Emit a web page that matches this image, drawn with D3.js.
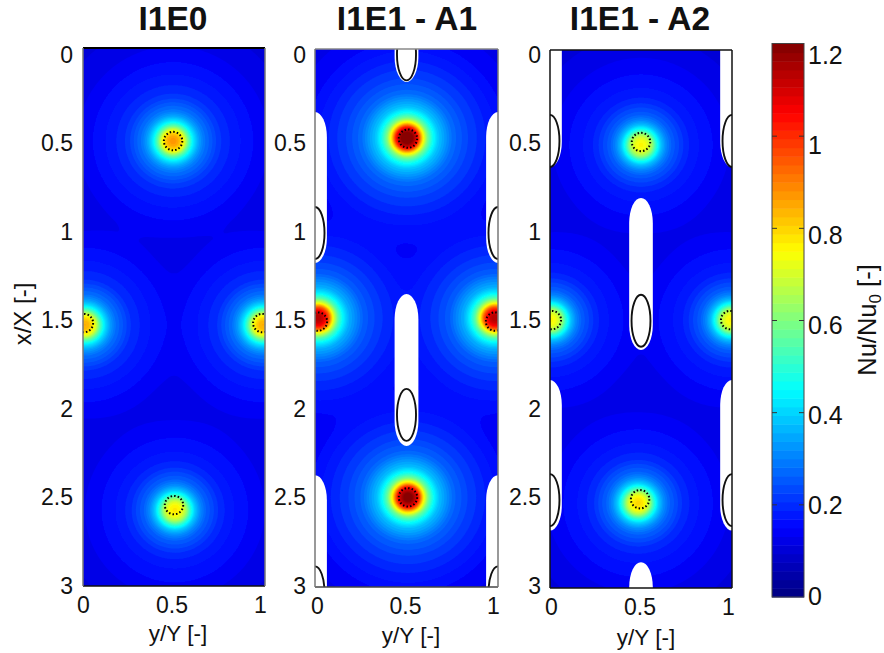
<!DOCTYPE html>
<html><head><meta charset="utf-8">
<script src="https://cdnjs.cloudflare.com/ajax/libs/d3/7.8.5/d3.min.js"></script>
<style>html,body{margin:0;padding:0;background:#fff}svg{display:block}text{font-family:"Liberation Sans",Arial,sans-serif;fill:#111}</style>
</head><body><div id="chart"></div>
<script>
// ---- data (all in chart units) ----
const titles = ["I1E0", "I1E1 - A1", "I1E1 - A2"];
const yTicks = [0, 0.5, 1, 1.5, 2, 2.5, 3];
const xTicks = [0, 0.5, 1];
const barTicks = [0, 0.2, 0.4, 0.6, 0.8, 1, 1.2];
const baseNu = 0.08;
// radial decay of a jet's peak: distance in y/Y, fraction of the peak
const profileR = [0, 0.025, 0.045, 0.062, 0.082, 0.11, 0.14, 0.17, 0.25, 0.33, 0.44, 0.55, 0.7, 0.9, 1.2];
const profileF = [1, 0.97, 0.90, 0.80, 0.62, 0.44, 0.33, 0.26, 0.165, 0.125, 0.088, 0.058, 0.035, 0.015, 0];
// [y/Y, x/X, peak Nu/Nu0]
const jetsA = [[0.495, 0.519, 0.88], [0.01, 1.545, 0.85], [0.99, 1.545, 0.85], [0.505, 2.577, 0.78]];
const jetsB = [[0.503, 0.496, 1.25], [0.016, 1.50, 1.15], [0.984, 1.50, 1.15], [0.508, 2.50, 1.22], [0.5, 0.2, 0.12]];
const jetsC = [[0.50, 0.53, 0.76], [0.005, 1.506, 0.76], [0.995, 1.506, 0.76], [0.484, 2.527, 0.80]];
// dotted rings: [y/Y, x/X]
const ringsA = [[0.495, 0.519], [0.005, 1.534], [0.985, 1.534], [0.5, 2.549]];
const ringsB = [[0.508, 0.50], [0.016, 1.52], [0.984, 1.52], [0.508, 2.50]];
const ringsC = [[0.50, 0.513], [0.01, 1.506], [0.99, 1.506], [0.495, 2.505]];
// blank zones: [y/Y centre, x/X start, x/X end]
const holesA = [];
const holesB = [[0.5, -0.5, 0.184], [0.5, 1.366, 2.214], [0, 0.351, 1.193], [1, 0.351, 1.193], [0, 2.376, 3.5], [1, 2.376, 3.5]];
const holesC = [[0, -0.5, 0.653], [1, -0.5, 0.653], [0.5, 0.825, 1.673], [0, 1.84, 2.68], [1, 1.84, 2.68], [0.5, 2.856, 3.5]];
// ellipses: [y/Y, x/X]
const ovalsA = [];
const ovalsB = [[0.5, 0.03], [0.5, 2.04], [0, 1.026], [1, 1.026], [0, 3.03], [1, 3.03]];
const ovalsC = [[0, 0.507], [1, 0.507], [0.5, 1.51], [0, 2.51], [1, 2.51]];

// ---- layout ----
const W = 884, H = 653;
const panels = [
  {title: titles[0], jets: jetsA, rings: ringsA, holes: holesA, ovals: ovalsA, x: [83, 265], y: [48, 586],
   xt: [83, 260], tx: 173, lx: 178, ly: 633, xty: 605, axisX: 73, frame: {t: ["#000", 2], b: ["#111", 1.5], l: ["#777", 1.5], r: ["#777", 1.5]}},
  {title: titles[1], jets: jetsB, rings: ringsB, holes: holesB, ovals: ovalsB, x: [315, 498], y: [49, 587],
   xt: [317, 493], tx: 407, lx: 411, ly: 635, xty: 606, axisX: 306, frame: {t: ["#888", 1.5], b: ["#444", 1.5], l: ["#777", 1.5], r: ["#777", 1.5]}},
  {title: titles[2], jets: jetsC, rings: ringsC, holes: holesC, ovals: ovalsC, x: [550, 732], y: [50, 588],
   xt: [551, 728], tx: 640, lx: 646, ly: 637, xty: 607, axisX: 541, frame: {t: ["#111", 1.5], b: ["#111", 1.5], l: ["#111", 1.5], r: ["#111", 1.5]}}
];
const svg = d3.select("#chart").append("svg").attr("width", W).attr("height", H);
const defs = svg.append("defs");
defs.append("filter").attr("id", "soft").attr("x", "-5%").attr("y", "-5%").attr("width", "110%").attr("height", "110%")
  .append("feGaussianBlur").attr("stdDeviation", 0.6);

// jet colormap, 64 levels over 0..1.2
const LEVELS = 64, VMAX = 1.2;
const jetRamp = d3.scaleLinear().domain([0, 0.125, 0.375, 0.625, 0.875, 1])
  .range(["#000080", "#0000ff", "#00ffff", "#ffff00", "#ff0000", "#800000"]).interpolate(d3.interpolateRgb);
const levelColor = i => jetRamp((i + 0.5) / LEVELS);
const profile = d3.scaleLinear().domain(profileR).range(profileF).clamp(true);

const nx = 110, ny = 324;
panels.forEach((p, pi) => {
  const sx = d3.scaleLinear().domain([0, 1]).range(p.x);
  const sy = d3.scaleLinear().domain([0, 3]).range(p.y);
  const gx = d3.scaleLinear().domain([0, nx]).range(p.x);
  const gy = d3.scaleLinear().domain([0, ny]).range(p.y);
  const rx = sx(1) - sx(0), ry = (sy(1) - sy(0));
  const field = new Float64Array(nx * ny);
  for (let j = 0; j < ny; j++) for (let i = 0; i < nx; i++) {
    const yy = sx.invert(gx(i + 0.5)), xx = sy.invert(gy(j + 0.5));
    // strongest jet dominates, so the halos stay round and meet in cusps
    let s = 0;
    p.jets.forEach(([a, b, pk]) => {
      const d = Math.hypot(yy - a, xx - b);
      s += Math.pow((pk - baseNu) * profile(d), 4);
    });
    field[i + j * nx] = baseNu + Math.pow(s, 0.25);
  }
  const clipId = "clip" + pi;
  defs.append("clipPath").attr("id", clipId).append("rect")
    .attr("x", p.x[0]).attr("y", p.y[0]).attr("width", p.x[1] - p.x[0]).attr("height", p.y[1] - p.y[0]);
  const g = svg.append("g").attr("clip-path", `url(#${clipId})`);
  const heat = g.append("g").attr("filter", "url(#soft)");
  const thresholds = d3.range(LEVELS).map(i => i * VMAX / LEVELS);
  const contours = d3.contours().size([nx, ny]).thresholds(thresholds)(field);
  const path = d3.geoPath(d3.geoTransform({point(x, y) { this.stream.point(gx(x), gy(y)); }}));
  heat.selectAll("path").data(contours).join("path")
    .attr("d", path).attr("fill", (d, i) => levelColor(i));

  // blank zones with elliptical ends
  const capY = 0.14, halfW = 0.065;
  g.selectAll("path.hole").data(p.holes).join("path").attr("class", "hole").attr("fill", "#fff")
    .attr("d", ([c, a, b]) => {
      const x0 = sx(c - halfW), x1 = sx(c + halfW), yt = sy(a), yb = sy(b);
      const e = halfW * rx, f = capY * ry;
      return `M${x0},${yt + f}A${e},${f} 0 0 1 ${x1},${yt + f}L${x1},${yb - f}A${e},${f} 0 0 1 ${x0},${yb - f}Z`;
    });
  g.selectAll("ellipse").data(p.ovals).join("ellipse")
    .attr("cx", d => sx(d[0])).attr("cy", d => sy(d[1]))
    .attr("rx", 0.052 * rx).attr("ry", 0.145 * ry)
    .attr("fill", "none").attr("stroke", "#111").attr("stroke-width", 1.9);
  g.selectAll("circle").data(p.rings).join("circle")
    .attr("cx", d => sx(d[0])).attr("cy", d => sy(d[1])).attr("r", 9.2)
    .attr("fill", "none").attr("stroke", "#000").attr("stroke-width", 2)
    .attr("stroke-dasharray", "1.5 2.1");

  // frame
  const fr = p.frame;
  [["t", p.x[0], p.y[0], p.x[1], p.y[0]], ["b", p.x[0], p.y[1], p.x[1], p.y[1]],
   ["l", p.x[0], p.y[0], p.x[0], p.y[1]], ["r", p.x[1], p.y[0], p.x[1], p.y[1]]].forEach(([k, a, b, c, d]) => {
    svg.append("line").attr("x1", a).attr("y1", b).attr("x2", c).attr("y2", d)
      .attr("stroke", fr[k][0]).attr("stroke-width", fr[k][1]);
  });

  // tick labels (axes with zero tick length)
  const yLab = d3.scaleLinear().domain([0, 3]).range([54, 585]);
  const ya = svg.append("g").attr("transform", `translate(${p.axisX},0)`)
    .call(d3.axisLeft(yLab).tickValues(yTicks).tickSize(0).tickPadding(0).tickFormat(d3.format("~g")));
  ya.select(".domain").remove();
  ya.selectAll("text").attr("font-size", 23).attr("dy", "0.36em").style("font-family", '"Liberation Sans"').attr("fill", "#111");
  const xLab = d3.scaleLinear().domain([0, 1]).range(p.xt);
  const xa = svg.append("g").attr("transform", `translate(0,${p.xty})`)
    .call(d3.axisBottom(xLab).tickValues(xTicks).tickSize(0).tickPadding(0).tickFormat(d3.format("~g")));
  xa.select(".domain").remove();
  xa.selectAll("text").attr("font-size", 23).attr("y", 0).attr("dy", "0.36em").style("font-family", '"Liberation Sans"').attr("fill", "#111");

  svg.append("text").attr("x", p.tx).attr("y", 30).attr("text-anchor", "middle")
    .attr("font-size", 33.5).attr("font-weight", "bold").text(p.title);
  svg.append("text").attr("x", p.lx).attr("y", p.ly).attr("dy", "0.36em").attr("text-anchor", "middle")
    .attr("font-size", 22.5).text("y/Y [-]");
});

svg.append("text").attr("transform", "translate(22,314) rotate(-90)").attr("dy", "0.36em").attr("text-anchor", "middle")
  .attr("font-size", 24).text("x/X [-]");

// colour bar
const barX = [772, 804];
const barY = d3.scaleLinear().domain([0, VMAX]).range([597, 44]);
const bar = svg.append("g");
bar.selectAll("rect").data(d3.range(LEVELS)).join("rect")
  .attr("x", barX[0]).attr("width", barX[1] - barX[0])
  .attr("y", i => barY((i + 1) * VMAX / LEVELS)).attr("height", barY(0) - barY(VMAX / LEVELS) + 0.5)
  .attr("fill", levelColor);
bar.append("rect").attr("x", barX[0]).attr("y", 43.5).attr("width", barX[1] - barX[0]).attr("height", 553.5)
  .attr("fill", "none").attr("stroke", "#444").attr("stroke-width", 1);
barTicks.slice(1, -1).forEach(v => {
  [[barX[0], barX[0] + 5], [barX[1] - 5, barX[1]]].forEach(([a, b]) =>
    bar.append("line").attr("x1", a).attr("x2", b).attr("y1", barY(v)).attr("y2", barY(v))
      .attr("stroke", "#333").attr("stroke-width", 1));
});
const barLab = d3.scaleLinear().domain([0, VMAX]).range([595, 54]);
const ba = svg.append("g").attr("transform", "translate(808,0)")
  .call(d3.axisRight(barLab).tickValues(barTicks).tickSize(0).tickPadding(0).tickFormat(d3.format("~g")));
ba.select(".domain").remove();
ba.selectAll("text").attr("font-size", 25).attr("dy", "0.36em").style("font-family", '"Liberation Sans"').attr("fill", "#111");

const cl = svg.append("text").attr("transform", "translate(867,320) rotate(-90)").attr("dy", "0.36em")
  .attr("text-anchor", "middle").attr("font-size", 25.5);
cl.append("tspan").text("Nu/Nu");
cl.append("tspan").attr("font-size", 17).attr("dy", 5).text("0");
cl.append("tspan").attr("dy", -5).text(" [-]");
</script></body></html>
